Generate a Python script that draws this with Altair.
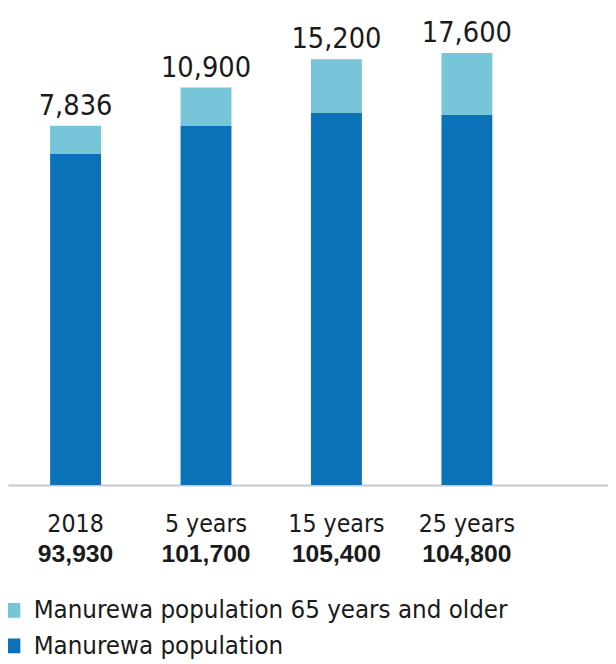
import altair as alt
import pandas as pd

categories = ["2018", "5 years", "15 years", "25 years"]
population = [93930, 101700, 105400, 104800]
older = [7836, 10900, 15200, 17600]
series_names = ["Manurewa population 65 years and older", "Manurewa population"]
colors = ["#77C5D8", "#0B71B9"]

FONT = "'DejaVu Sans Condensed', 'Liberation Sans', sans-serif"
BOLD_FONT = "'Liberation Sans', 'DejaVu Sans Condensed', sans-serif"
TEXT = "#1a1a1a"

rows = []
for c, p, o in zip(categories, population, older):
    rows.append({"cat": c, "series": series_names[1], "value": p, "ord": 0})
    rows.append({"cat": c, "series": series_names[0], "value": o, "ord": 1})
df = pd.DataFrame(rows)

lab = pd.DataFrame({
    "cat": categories,
    "top": [p + o for p, o in zip(population, older)],
    "older_label": [f"{o:,}" for o in older],
    "pop_label": [f"{p:,}" for p in population],
    "zero": [0] * len(categories),
})

x = alt.X(
    "cat:N",
    sort=categories,
    scale=alt.Scale(paddingInner=0.61, paddingOuter=0.605, align=0.267),
    axis=alt.Axis(title=None, labels=False, ticks=False, grid=False,
                  domainColor="#c8c8c8", domainWidth=2),
)
yscale = alt.Scale(domain=[0, 133900], nice=False)

bars = alt.Chart(df).mark_bar().encode(
    x=x,
    y=alt.Y("value:Q", stack="zero", scale=yscale, axis=None),
    color=alt.Color(
        "series:N",
        scale=alt.Scale(domain=series_names, range=colors),
        legend=alt.Legend(
            title=None, orient="none", legendX=-8, legendY=593,
            symbolType="square", symbolSize=225, symbolStrokeWidth=0,
            labelFont=FONT, labelFontSize=26, labelColor=TEXT,
            labelLimit=0, rowPadding=10, labelOffset=8, padding=0,
        ),
    ),
    order=alt.Order("ord:Q"),
)

base = alt.Chart(lab).encode(x=alt.X("cat:N", sort=categories))

top_labels = base.mark_text(
    font=FONT, fontSize=29, color=TEXT, baseline="alphabetic", dy=-11
).encode(y=alt.Y("top:Q", scale=yscale), text="older_label:N")

cat_labels = base.mark_text(
    font=FONT, fontSize=25, color=TEXT, baseline="alphabetic", dy=48
).encode(y=alt.Y("zero:Q", scale=yscale), text="cat:N")

pop_labels = base.mark_text(
    font=BOLD_FONT, fontSize=25, fontWeight="bold", color=TEXT, baseline="alphabetic", dy=78
).encode(y=alt.Y("zero:Q", scale=yscale), text="pop_label:N")

chart = alt.layer(bars, top_labels, cat_labels, pop_labels).properties(
    width=608,
    height=479,
    autosize=alt.AutoSizeParams(type="none"),
    padding={"left": 0, "top": 0, "right": 0, "bottom": 177},
).configure_view(stroke=None)

chart.save("out.html", embed_options={"renderer": "svg", "actions": False})
